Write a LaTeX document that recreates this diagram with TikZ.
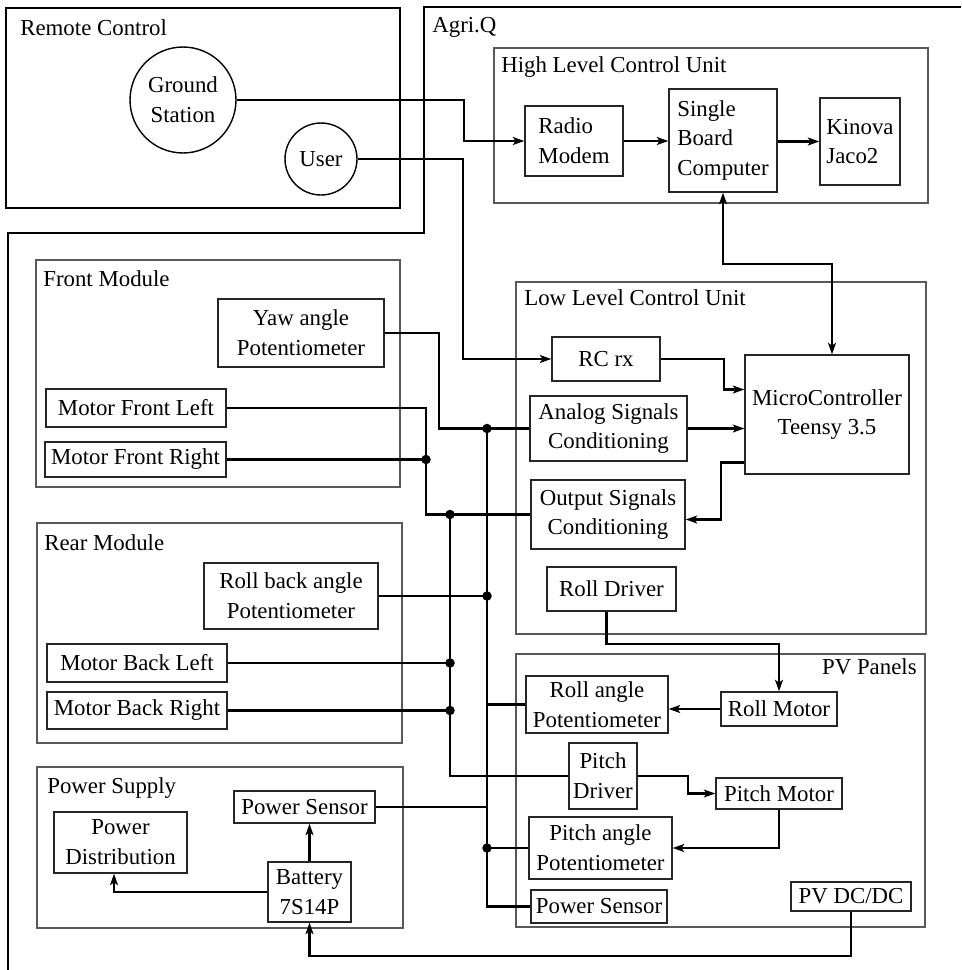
\documentclass[tikz,border=0pt]{standalone}
\usepackage{fontspec}
\setmainfont{Liberation Serif}
\usetikzlibrary{arrows.meta}

\begin{document}
\begin{tikzpicture}[
        x=0.02cm, y=-0.02cm,
        >={Stealth[length=6.5pt,width=4.5pt,inset=1.5pt]},
        every node/.style={font=\fontsize{13}{17}\selectfont},
        blk/.style={draw=black!85, line width=0.8pt, align=center, inner sep=1.5pt},
        grp/.style={draw=black!65, line width=0.6pt},
        outerbox/.style={draw=black, line width=1.5pt},
        wire/.style={line width=1.2pt},
        lbl/.style={anchor=base west, inner sep=0pt},
        jdot/.style={circle, fill=black, inner sep=0pt, minimum size=0.19cm}
    ]
    \path[use as bounding box, fill=white] (0,0) rectangle (961,970);

    % Remote control
    \begin{scope}
        \draw[outerbox] (6,8) rectangle (400,208);
        \node[draw, circle, line width=0.8pt, minimum size=2.12cm, inner sep=0pt, align=center] (gs) at (183,100) {Ground\\Station};
        \node[draw, circle, line width=0.8pt, minimum size=1.44cm, inner sep=0pt] (user) at (321,159) {User};
        % Label
        \node[lbl] (rcl) at (20,35) {Remote Control};
    \end{scope}

    % Agri.Q outline
    \draw[outerbox] (961,7) -- (424,7) -- (424,233) -- (8,233) -- (8,972);
    \node[lbl] (agl) at (432,32) {Agri.Q};

    % High level control unit
    \begin{scope}
        \draw[grp] (494,48) rectangle (928,203);
        \node[blk, align=left, minimum width=1.96cm, minimum height=1.4cm] (radio) at (574,141) {Radio\\Modem};
        \node[blk, align=left, minimum width=2.16cm, minimum height=2.06cm] (sbc) at (723,140.5) {Single\\Board\\Computer};
        \node[blk, align=left, minimum width=1.6cm, minimum height=1.74cm] (kin) at (860,141.5) {Kinova\\Jaco2};
        % Label
        \node[lbl] (hll) at (501,72) {High Level Control Unit};
    \end{scope}

    % Low level control unit
    \begin{scope}
        \draw[grp] (516,282) rectangle (926,634);
        \node[blk, minimum width=2.16cm, minimum height=0.88cm] (rcrx) at (606,359) {RC rx};
        \node[blk, minimum width=3.28cm, minimum height=2.38cm] (mc) at (827,414.5) {MicroController\\Teensy 3.5};
        \node[blk, minimum width=3.14cm, minimum height=1.3cm] (ana) at (608.5,428.5) {Analog Signals\\Conditioning};
        \node[blk, minimum width=3.08cm, minimum height=1.38cm] (out) at (608,514.5) {Output Signals\\Conditioning};
        \node[blk, minimum width=2.58cm, minimum height=0.88cm] (rdrv) at (611.5,589) {Roll Driver};
        % Label
        \node[lbl] (lll) at (524,305) {Low Level Control Unit};
    \end{scope}

    % PV panels
    \begin{scope}
        \draw[grp] (516,654) rectangle (925,927);
        \node[blk, minimum width=2.32cm, minimum height=0.68cm] (rmot) at (779,709) {Roll Motor};
        \node[blk, minimum width=2.84cm, minimum height=1.14cm] (rpot) at (597,704.5) {Roll angle\\Potentiometer};
        \node[blk, minimum width=1.36cm, minimum height=1.32cm] (pdrv) at (603,776) {Pitch\\Driver};
        \node[blk, minimum width=2.52cm, minimum height=0.62cm] (pmot) at (779,793.5) {Pitch Motor};
        \node[blk, minimum width=2.86cm, minimum height=1.24cm] (ppot) at (600.5,848) {Pitch angle\\Potentiometer};
        \node[blk, minimum width=2.72cm, minimum height=0.66cm] (psv) at (599,906.5) {Power Sensor};
        \node[blk, minimum width=2.4cm, minimum height=0.58cm] (pvdc) at (851,896.5) {PV DC/DC};
        % Label
        \node[anchor=base east, inner sep=0pt] (pvl) at (917,674) {PV Panels};
    \end{scope}

    % Front module
    \begin{scope}
        \draw[grp] (36,260) rectangle (400,487);
        \node[blk, minimum width=3.32cm, minimum height=1.36cm] (yaw) at (301,333) {Yaw angle\\Potentiometer};
        \node[blk, minimum width=3.6cm, minimum height=0.76cm] (mfl) at (136,408) {Motor Front Left};
        \node[blk, minimum width=3.62cm, minimum height=0.7cm] (mfr) at (135.5,459.5) {Motor Front Right};
        % Label
        \node[lbl] (fml) at (43,286) {Front Module};
    \end{scope}

    % Rear module
    \begin{scope}
        \draw[grp] (37,523) rectangle (402,743);
        \node[blk, minimum width=3.48cm, minimum height=1.32cm] (rback) at (291,596) {Roll back angle\\Potentiometer};
        \node[blk, minimum width=3.6cm, minimum height=0.76cm] (mbl) at (137,663) {Motor Back Left};
        \node[blk, minimum width=3.6cm, minimum height=0.74cm] (mbr) at (137,710.5) {Motor Back Right};
        % Label
        \node[lbl] (rml) at (44,550) {Rear Module};
    \end{scope}

    % Power supply
    \begin{scope}
        \draw[grp] (37,767) rectangle (403,928);
        \node[blk, minimum width=2.82cm, minimum height=0.64cm] (pse) at (304.5,807) {Power Sensor};
        \node[blk, minimum width=2.66cm, minimum height=1.22cm] (pdist) at (120.5,842.5) {Power\\Distribution};
        \node[blk, minimum width=1.66cm, minimum height=1.2cm] (bat) at (309.5,892) {Battery\\7S14P};
        % Label
        \node[lbl] (psl) at (47,793) {Power Supply};
    \end{scope}

    % Remote links
    \draw[wire,->] (gs.east) -- ++(227,0) |- (radio.west);
    \draw[wire,->] (user.east) -- ++(105,0) |- (rcrx.west);

    % High level links
    \draw[wire,->] (radio.east) -- (radio.east -| sbc.west);
    \draw[wire,->] (kin.west -| sbc.east) -- (kin.west);
    \draw[wire,<->] (sbc.south) -- ++(0,71) -| ([xshift=0.1cm]mc.north);

    % Low level links
    \draw[wire,->] (rcrx.east) -- ++(63,0) |- ([yshift=0.5cm]mc.west);
    \draw[wire,->] (ana.east) -- (ana.east -| mc.west);
    \draw[wire,->] ([yshift=-0.96cm]mc.west) -- ++(-23,0) |- ([yshift=-0.1cm]out.east);
    \draw[wire,->] ([xshift=-0.1cm]rdrv.south) -- ++(0,32) -| (rmot.north);

    % PV panel links
    \draw[wire,->] (rmot.west) -- (rmot.west -| rpot.east);
    \draw[wire,->] (pdrv.east) -- ++(50,0) |- (pmot.west);
    \draw[wire,->] (pmot.south) |- (ppot.east);
    \draw[wire,->] (pvdc.south) -- ++(0,44) -| (bat.south);

    % Power supply links
    \draw[wire,->] (bat.north) -- (pse.south -| bat.north);
    \draw[wire,->] (bat.west) -| ([xshift=-0.13cm]pdist.south);

    % Signal buses
    \coordinate (busA) at (487,0);
    \coordinate (busB) at (426,0);
    \coordinate (busC) at (450,0);

    \draw[wire] (yaw.east) -- ++(54,0) |- (ana.west);
    \draw[wire, line width=1.5pt] (ana.west -| busA) |- (psv.west);
    \node[jdot] (dA1) at (ana.west -| busA) {};
    \draw[wire] (rback.east) -- (rback.east -| busA) node[jdot] (dA2) {};
    \draw[wire] (rpot.west) -- (rpot.west -| busA);
    \draw[wire] (pse.east) -- (pse.east -| busA);
    \draw[wire] (ppot.west) -- (ppot.west -| busA) node[jdot] (dA3) {};

    \draw[wire] (mfl.east) -| (out.west -| busB) -- (out.west);
    \draw[wire] (mfr.east) -- (mfr.east -| busB) node[jdot] (dB1) {};

    \node[jdot] (dC1) at (out.west -| busC) {};
    \draw[wire] (dC1.center) |- (pdrv.west);
    \draw[wire] (mbl.east) -- (mbl.east -| busC) node[jdot] (dC2) {};
    \draw[wire] (mbr.east) -- (mbr.east -| busC) node[jdot] (dC3) {};
\end{tikzpicture}
\end{document}
